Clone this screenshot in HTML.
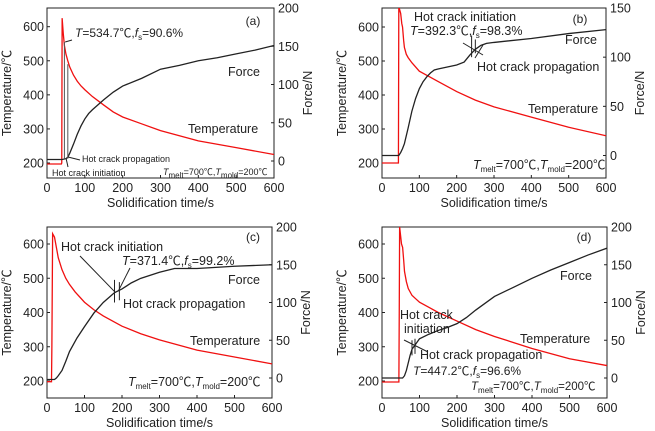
<!DOCTYPE html>
<html><head><meta charset="utf-8"><style>
html,body{margin:0;padding:0;background:#fff;width:655px;height:431px;overflow:hidden}
svg text{font-family:"Liberation Sans","Noto Sans CJK SC",sans-serif;fill:#222}
</style></head><body>
<svg id="c" width="655" height="431" viewBox="0 0 655 431" xmlns="http://www.w3.org/2000/svg"></svg>
<script>
const timeTicks=[0,100,200,300,400,500,600];
const tempTicks=[200,300,400,500,600];
const forceTicksA=[0,50,100,150,200];
const forceTicksB=[0,50,100,150];
const aTempT=[0,38,39,40,43,46,50,55,60,70,80,90,100,120,150,175,200,250,300,350,400,500,600];
const aTempV=[197,197,200,625,580,545,520,500,482,458,440,426,415,395,370,350,335,315,295,280,265,245,225];
const aForceT=[0,38,40,50,55,60,70,80,90,100,110,120,150,175,200,250,300,350,400,450,500,550,600];
const aForceV=[2,2,2,3,5,10,22,35,46,55,62,67,80,90,98,108,120,125,131,135,140,145,151];
const bTempT=[0,44,45,50,53,55,58,60,65,70,80,100,125,150,200,250,300,400,500,600];
const bTempV=[200,200,660,640,610,600,560,540,520,510,495,470,455,440,410,385,365,335,305,280];
const bForceT=[0,45,50,55,60,70,80,90,100,110,120,130,140,150,175,200,220,235,250,265,280,300,400,500,600];
const bForceV=[0,0,3,7,12,28,45,58,68,75,80,84,87,88,90,92,95,102,108,112,114,115,119,124,128];
const cTempT=[0,12,13,15,20,25,30,40,50,60,75,100,125,150,200,250,300,400,500,600];
const cTempV=[198,198,300,630,620,590,560,525,500,482,460,430,408,390,360,338,320,290,270,250];
const cForceT=[0,20,25,30,40,50,60,80,100,125,150,180,200,225,250,300,340,400,500,600];
const cForceV=[-2,-2,0,3,10,22,35,53,68,86,100,113,118,126,132,140,145,145,148,150];
const dTempT=[0,45,46,47,52,55,58,60,65,70,80,90,100,125,150,200,250,300,400,500,600];
const dTempV=[197,197,400,650,600,590,550,520,490,470,450,440,430,415,400,375,350,330,295,265,245];
const dForceT=[0,55,60,65,70,75,80,90,100,125,150,175,200,225,250,300,350,400,450,500,550,600];
const dForceV=[0,0,3,10,20,30,38,45,52,58,63,67,72,80,90,108,120,132,143,153,163,172];

const S=document.getElementById('c');
const NS='http://www.w3.org/2000/svg';
function mk(tag,attrs,parent){const e=document.createElementNS(NS,tag);for(const k in attrs)e.setAttribute(k,attrs[k]);(parent||S).appendChild(e);return e;}
function txt(x,y,s,size,parent,anchor){const t=mk('text',{x:x,y:y,'font-size':size,'text-anchor':anchor||'start'},parent);t.innerHTML=s;return t;}

function panel(p){
  const g=mk('g',{});
  
  
  const X=t=>p.x0+(t/600)*(p.x1-p.x0);
  const YT=v=>p.t200+(v-200)*(p.t600-p.t200)/400;
  const YF=v=>p.f0+v*(p.fTop-p.f0)/p.fMax;
  const box=mk('rect',{x:p.x0,y:p.y0,width:p.x1-p.x0,height:p.y1-p.y0,fill:'none',stroke:'#222','stroke-width':1},g);
  
  
  timeTicks.forEach(t=>{mk('line',{x1:X(t),x2:X(t),y1:p.y1,y2:p.y1-3,stroke:'#222'},g);
    const l=txt(X(t),p.y1+14,t,12.5,g,'middle');});
  tempTicks.forEach(v=>{mk('line',{x1:p.x0,x2:p.x0+3,y1:YT(v),y2:YT(v),stroke:'#222'},g);
    const l=txt(p.x0-3,YT(v)+4.5,v,12.5,g,'end');});
  p.fTicks.forEach(v=>{mk('line',{x1:p.x1,x2:p.x1-3,y1:YF(v),y2:YF(v),stroke:'#222'},g);
    const l=txt(p.x1+4,YF(v)+4.5,v,12.5,g);});
  const xt=txt((p.x0+p.x1)/2,p.y1+29,'Solidification time/s',12.5,g,'middle');
  
  const cy=(p.y0+p.y1)/2;
  const lt=txt(0,0,'Temperature/℃',12.5,g,'middle');lt.setAttribute('transform','translate('+(p.x0-36)+','+cy+') rotate(-90)');
  
  const rt=txt(0,0,'Force/N',12.5,g,'middle');rt.setAttribute('transform','translate('+(p.x1+38)+','+cy+') rotate(-90)');
  
  const clipId='cl'+p.id;const cp=mk('clipPath',{id:clipId},g);mk('rect',{x:p.x0,y:p.y0,width:p.x1-p.x0,height:p.y1-p.y0},cp);
  const tl=mk('polyline',{points:p.tT.map((t,i)=>X(t)+','+YT(p.tV[i])).join(' '),fill:'none',stroke:'#f01010','stroke-width':1.3,'clip-path':'url(#'+clipId+')'},g);
  
  const fl=mk('polyline',{points:p.fT.map((t,i)=>X(t)+','+YF(p.fV[i])).join(' '),fill:'none',stroke:'#222','stroke-width':1.3,'clip-path':'url(#'+clipId+')'},g);
  
  p.ann(g,X,YT,YF);
}
function sub(s,rest){return '<tspan font-size="8" dy="3">'+s+'</tspan><tspan dy="-3">'+rest+'</tspan>';}
const I=s=>'<tspan font-style="italic">'+s+'</tspan>';
function cond(){return I('T')+sub('melt','=700℃,')+I('T')+sub('mold','=200℃');}

panel({id:'a',x0:47,x1:274,y0:8,y1:178,t200:163,t600:26.7,f0:161,fTop:8,fMax:200,fTicks:forceTicksA,
 tT:aTempT,tV:aTempV,fT:aForceT,fV:aForceV,ann:(g,X,YT,YF)=>{
  txt(253,25,'(a)',12,g,'middle');
  txt(75,37,I('T')+'=534.7℃,'+I('f')+sub('s','=90.6%'),12,g);
  mk('line',{x1:X(46),x2:X(46),y1:YT(555),y2:YF(3),stroke:'#555'},g);
  mk('line',{x1:X(55),x2:X(55),y1:YT(490),y2:YF(3),stroke:'#555'},g);
  mk('line',{x1:X(48),x2:72,y1:YT(555),y2:40,stroke:'#222'},g);
  txt(228,76,'Force',12.5,g);txt(188,133,'Temperature',12.5,g);
  txt(82,162,'Hot crack propagation',9,g);txt(52,176,'Hot crack initiation',9,g);
  mk('line',{x1:80,x2:68,y1:160,y2:157,stroke:'#222'},g);mk('line',{x1:68,x2:66,y1:167,y2:158,stroke:'#222'},g);
  txt(163,175,cond(),9,g);
 }});
panel({id:'b',x0:382,x1:606,y0:8,y1:178,t200:163,t600:27,f0:155.5,fTop:8,fMax:150,fTicks:forceTicksB,
 tT:bTempT,tV:bTempV,fT:bForceT,fV:bForceV,ann:(g,X,YT,YF)=>{
  txt(580,23,'(b)',12,g,'middle');
  txt(414,21,'Hot crack initiation',12.5,g);
  txt(410,35,I('T')+'=392.3℃,'+I('f')+sub('s','=98.3%'),12.5,g);
  mk('line',{x1:X(240),x2:X(240),y1:YF(100),y2:YF(122),stroke:'#222'},g);
  mk('line',{x1:X(250),x2:X(250),y1:YF(104),y2:YF(118),stroke:'#222'},g);
  mk('line',{x1:463,x2:483,y1:43,y2:55,stroke:'#222'},g);mk('line',{x1:483,x2:475,y1:45,y2:58,stroke:'#222'},g);
  txt(565,44,'Force',12.5,g);txt(477,71,'Hot crack propagation',12.5,g);txt(528,113,'Temperature',12.5,g);
  txt(473,169,cond(),12.5,g);
 }});
panel({id:'c',x0:47,x1:272,y0:227,y1:398,t200:381,t600:244,f0:378,fTop:227,fMax:200,fTicks:forceTicksA,
 tT:cTempT,tV:cTempV,fT:cForceT,fV:cForceV,ann:(g,X,YT,YF)=>{
  txt(253,241,'(c)',12,g,'middle');
  txt(61,251,'Hot crack initiation',12.5,g);
  txt(122,265,I('T')+'=371.4℃,'+I('f')+sub('s','=99.2%'),12.5,g);
  mk('line',{x1:80,x2:X(183),y1:256,y2:YF(113),stroke:'#222'},g);
  mk('line',{x1:130,x2:X(190),y1:268,y2:YF(115),stroke:'#222'},g);
  mk('line',{x1:X(180),x2:X(180),y1:YF(100),y2:YF(130),stroke:'#222'},g);
  mk('line',{x1:X(193),x2:X(193),y1:YF(103),y2:YF(127),stroke:'#222'},g);
  txt(228,284,'Force',12.5,g);txt(123,308,'Hot crack propagation',12.5,g);txt(190,345,'Temperature',12.5,g);
  txt(128,386,cond(),12.5,g);
 }});
panel({id:'d',x0:382,x1:607,y0:227,y1:398,t200:381,t600:244,f0:378,fTop:227,fMax:200,fTicks:forceTicksA,
 tT:dTempT,tV:dTempV,fT:dForceT,fV:dForceV,ann:(g,X,YT,YF)=>{
  txt(584,241,'(d)',12,g,'middle');
  txt(560,280,'Force',12.5,g);txt(400,319,'Hot crack',12.5,g);txt(404,333,'initiation',12.5,g);
  txt(520,343,'Temperature',12.5,g);txt(420,359,'Hot crack propagation',12.5,g);
  mk('line',{x1:X(80),x2:X(80),y1:YF(30),y2:YF(50),stroke:'#222'},g);
  mk('line',{x1:X(88),x2:X(88),y1:YF(32),y2:YF(52),stroke:'#222'},g);
  mk('line',{x1:404,x2:428,y1:340,y2:352,stroke:'#222'},g);
  txt(413,375,I('T')+'=447.2℃,'+I('f')+sub('s','=96.6%'),12,g);
  txt(471,390,cond(),11.5,g);
 }});
</script>
</body></html>
